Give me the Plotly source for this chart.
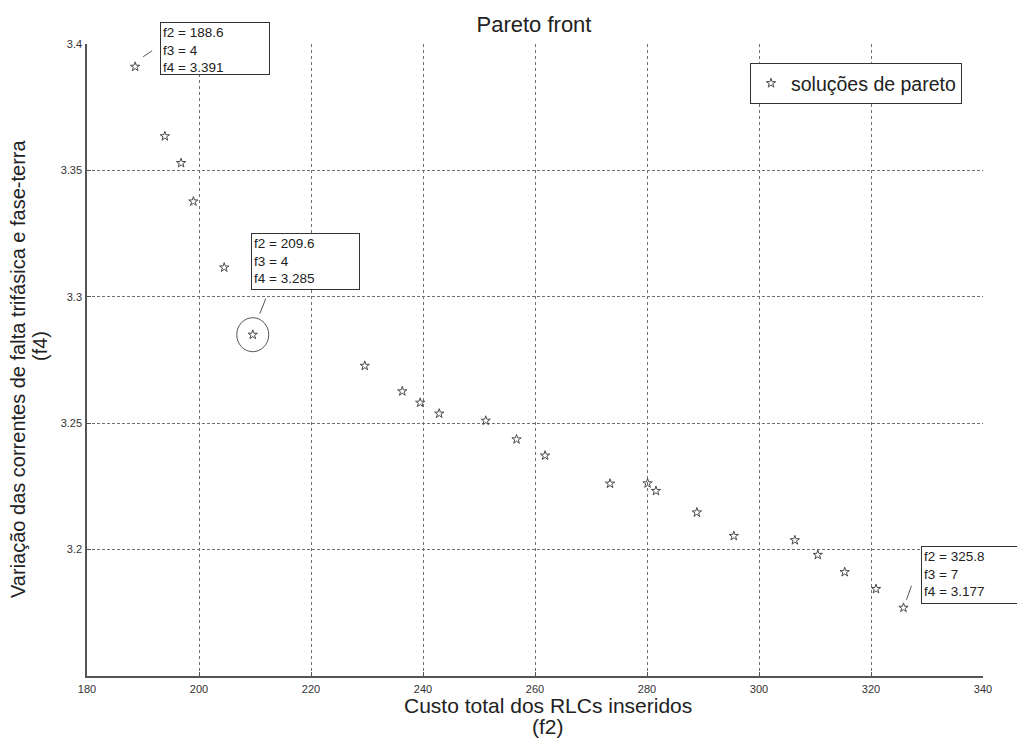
import plotly.graph_objects as go

# Pareto solutions: total RLC cost (f2) vs. fault-current variation (f4)
f2 = [188.6, 193.9, 196.8, 199.0, 204.5, 209.6, 229.6, 236.3, 239.5, 242.9,
      251.2, 256.7, 261.8, 273.4, 280.1, 281.6, 288.9, 295.5, 306.4, 310.5,
      315.3, 320.9, 325.8]
f4 = [3.391, 3.3635, 3.3529, 3.3377, 3.3116, 3.285, 3.2727, 3.2626, 3.2581,
      3.2538, 3.251, 3.2436, 3.2372, 3.2261, 3.2262, 3.2232, 3.2147, 3.2054,
      3.2037, 3.1979, 3.1911, 3.1844, 3.177]

# data tips
tip_f2 = [188.6, 209.6, 325.8]
tip_f3 = [4, 4, 7]
tip_f4 = [3.391, 3.285, 3.177]

x_ticks = [180, 200, 220, 240, 260, 280, 300, 320, 340]
y_ticks = [3.2, 3.25, 3.3, 3.35, 3.4]

FONT = "Liberation Sans, Arial, sans-serif"
INK = "#222222"
GRID = "#707070"

# plot-area geometry in pixels
W, H = 1017, 740
L, R, T, B = 87, 34, 44, 64
PW, PH = W - L - R, H - T - B


def px_x(p):
    return (p - L) / PW


def px_y(p):
    return (H - B - p) / PH


fig = go.Figure()
fig.add_trace(go.Scatter(
    x=f2, y=f4, mode="markers", name="soluções de pareto",
    marker=dict(symbol="star-open", size=7, color="#4a4a4a",
                line=dict(width=1, color="#4a4a4a")),
))

# tip box placement (pixel offsets from the tipped point) and leader lines
tip_style = [
    dict(dx=25, dy=45, w=104, h=47, lx=(8, 17), ly=(10, 16)),
    dict(dx=-2, dy=102, w=103, h=51, lx=(7, 13), ly=(21, 36)),
    dict(dx=18, dy=62, w=110, h=52, lx=(3, 8), ly=(8, 22)),
]

annotations = []
shapes = []
for a, b, c, st in zip(tip_f2, tip_f3, tip_f4, tip_style):
    annotations.append(dict(
        x=a, y=c, xref="x", yref="y", showarrow=False,
        text=f"f2 = {a}<br>f3 = {b}<br>f4 = {c}",
        xanchor="left", yanchor="top", xshift=st["dx"], yshift=st["dy"],
        width=st["w"], height=st["h"], align="left", valign="top",
        bgcolor="white", bordercolor="#333333", borderwidth=1, borderpad=2,
        font=dict(family=FONT, size=13.5, color=INK),
    ))
    shapes.append(dict(
        type="line", xref="x", yref="y", xsizemode="pixel", ysizemode="pixel",
        xanchor=a, yanchor=c, x0=st["lx"][0], x1=st["lx"][1],
        y0=st["ly"][0], y1=st["ly"][1],
        line=dict(color="#555555", width=1),
    ))

# highlight ring around the second tipped solution
shapes.append(dict(
    type="circle", xref="x", yref="y", xsizemode="pixel", ysizemode="pixel",
    xanchor=tip_f2[1], yanchor=tip_f4[1], x0=-16, x1=16, y0=-17, y1=17,
    line=dict(color="#555555", width=1),
))

# axis titles, one annotation per line
xlab_font = dict(family=FONT, size=21, color=INK)
ylab_font = dict(family=FONT, size=20, color=INK)
annotations += [
    dict(x=px_x(548), y=px_y(705), xref="paper", yref="paper", showarrow=False,
         xanchor="center", yanchor="middle",
         text="Custo total dos RLCs inseridos", font=xlab_font),
    dict(x=px_x(548), y=px_y(726), xref="paper", yref="paper", showarrow=False,
         xanchor="center", yanchor="middle", text="(f2)", font=xlab_font),
    dict(x=px_x(18), y=px_y(369), xref="paper", yref="paper", showarrow=False,
         xanchor="center", yanchor="middle", textangle=-90,
         text="Variação das correntes de falta trifásica e fase-terra",
         font=ylab_font),
    dict(x=px_x(40), y=px_y(346), xref="paper", yref="paper", showarrow=False,
         xanchor="center", yanchor="middle", textangle=-90, text="(f4)",
         font=ylab_font),
]

fig.update_layout(
    width=W, height=H, autosize=False,
    margin=dict(l=L, r=R, t=T, b=B),
    paper_bgcolor="white", plot_bgcolor="white",
    title=dict(text="Pareto front", x=534 / W, xanchor="center",
               y=1 - 24 / H, yanchor="middle",
               font=dict(family=FONT, size=22, color=INK)),
    showlegend=True,
    legend=dict(x=px_x(750), y=px_y(63), xanchor="left", yanchor="top",
                bgcolor="white", bordercolor="#333333", borderwidth=1,
                font=dict(family=FONT, size=19.5, color=INK)),
    annotations=annotations,
    shapes=shapes,
)

fig.update_xaxes(
    range=[180, 340], tickvals=x_ticks, ticktext=[str(v) for v in x_ticks],
    showgrid=True, gridcolor=GRID, griddash="dot", gridwidth=1,
    showline=True, linecolor="#555555", linewidth=1.5, mirror=False,
    ticks="inside", ticklen=4, tickcolor="#555555",
    tickfont=dict(family=FONT, size=11, color="#333333"),
    ticklabelstandoff=2, zeroline=False,
)
fig.update_yaxes(
    range=[3.15, 3.4], tickvals=y_ticks, ticktext=["3.2", "3.25", "3.3", "3.35", "3.4"],
    showgrid=True, gridcolor=GRID, griddash="3px,2px", gridwidth=1,
    showline=True, linecolor="#555555", linewidth=1.5, mirror=False,
    ticks="inside", ticklen=4, tickcolor="#555555",
    tickfont=dict(family=FONT, size=11, color="#333333"),
    ticklabelstandoff=1, zeroline=False,
)

fig.write_html("out.html")
